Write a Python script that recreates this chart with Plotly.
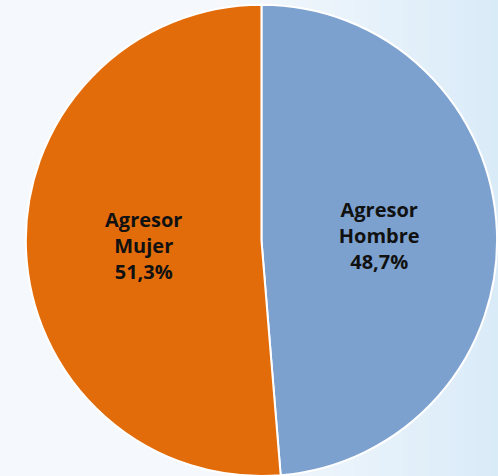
import plotly.graph_objects as go

# Share of aggressors by sex
labels = ["Agresor<br>Hombre", "Agresor<br>Mujer"]
values = [48.7, 51.3]
colors = ["#7CA1CF", "#E36C0A"]

text = [f"<b>{l}<br>{str(v).replace('.', ',')}%</b>" for l, v in zip(labels, values)]

fig = go.Figure(
    go.Pie(
        labels=labels,
        values=values,
        text=text,
        textinfo="text",
        textposition="inside",
        insidetextorientation="horizontal",
        sort=False,
        direction="clockwise",
        rotation=0,
        marker=dict(colors=colors, line=dict(color="white", width=2)),
        textfont=dict(family="Open Sans", size=20, color="#111111"),
        domain=dict(x=[0.05, 1.0], y=[0.0, 0.99]),
        hoverinfo="label+percent",
        showlegend=False,
    )
)

# Soft light-blue backdrop, deepening towards the right edge
shapes = []
n = 40
c0 = (245, 249, 253)
c1 = (218, 235, 248)
for i in range(n):
    t = i / (n - 1)
    col = tuple(round(a + (b - a) * t) for a, b in zip(c0, c1))
    shapes.append(dict(
        type="rect", xref="paper", yref="paper", layer="below",
        x0=0.45 + 0.55 * i / n, x1=0.45 + 0.55 * (i + 1) / n + 0.002,
        y0=0, y1=1, line=dict(width=0),
        fillcolor=f"rgb{col}",
    ))

fig.update_layout(
    width=498,
    height=476,
    margin=dict(l=0, r=0, t=0, b=0),
    paper_bgcolor="rgb(245,249,253)",
    plot_bgcolor="rgb(245,249,253)",
    shapes=shapes,
)

fig.write_html("out.html")
